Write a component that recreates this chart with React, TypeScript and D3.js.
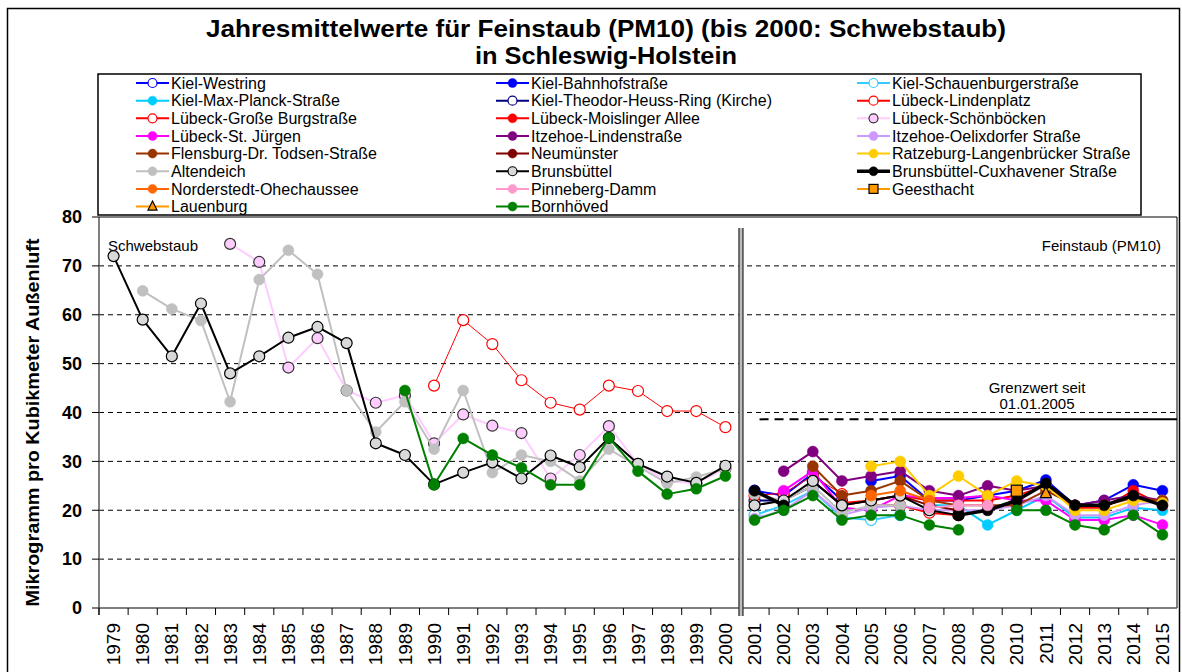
import React from "react";
import * as d3 from "d3";

const years = [
  1979, 1980, 1981, 1982, 1983, 1984, 1985, 1986, 1987, 1988, 1989, 1990, 1991,
  1992, 1993, 1994, 1995, 1996, 1997, 1998, 1999, 2000, 2001, 2002, 2003, 2004,
  2005, 2006, 2007, 2008, 2009, 2010, 2011, 2012, 2013, 2014, 2015,
];
const yTicks = [0, 10, 20, 30, 40, 50, 60, 70, 80];
const limitValue = 38.6;

// values per station, first entry = start year
const kielWestring = [24, 23, 27.5, 22]; // 2001
const kielBahnhof = [26, 27, 22, 22, 23, 24, 26.2, 21, 22, 25.2, 24]; // 2005
const kielSchauenburger = [19, 21, 24, 18.5, 18, 19]; // 2001
const kielMaxPlanck = [21, 21, 17, 20, 23, 18.5, 18.5, 20.5, 20]; // 2007
const kielTheodorHeuss = [22, 22, 25]; // 2001
const luebeckLindenplatzA = [45.5, 58.9, 54, 46.6, 42, 40.6, 45.5, 44.4, 40.3, 40.3, 37]; // 1990
const luebeckLindenplatzB = [23, 23.5, 27, 23.3]; // 2001
const luebeckBurgstr = [21, 21, 19.5, 19]; // 2005
const luebeckMoislinger = [21.5, 22, 23, 22, 22, 22, 23, 25, 20.5, 20.5, 24, 21]; // 2004
const luebeckSchoenboecken = [74.5, 70.8, 49.2, 55.2, 44.5, 42, 43.5, 33.7, 39.6, 37.3, 35.8, 26.5, 31.3, 37.2, 29.5, 26, 25.5, 28.5]; // 1983
const luebeckStJuergen = [24, 28, 20.5, 20, 23, 22.5, 22.5, 23, 22, 22, 18, 18, 19, 17]; // 2002
const itzehoeLinden = [28, 32, 26, 27, 28, 24, 23, 25, 24, 25, 21, 22, 23, 22]; // 2002
const itzehoeOelixdorf = [18.3, 20, 24, 19, 20.5, 21, 20, 20, 20, 21, 23, 19, 19, 21, 22]; // 2001
const flensburg = [29, 23, 24, 26, 22, 21, 21, 21, 24, 21, 21, 22.5, 22]; // 2003
const neumuenster = [26, 21, 22, 23, 21, 20]; // 2003
const ratzeburg = [29, 30, 23, 27, 23, 26, 25, 20, 20, 22, 21.5]; // 2005
const altendeichA = [64.9, 61.2, 58.8, 42.2, 67.2, 73.2, 68.3, 44.5, 36, 42.2, 32.5, 44.5, 27.7, 31.3, 30, 26, 32.5, 29, 25.5, 26.8, 28.5]; // 1980
const altendeichB = [23.3, 22, 25, 19.5, 21, 21]; // 2001
const brunsbuettelA = [72, 59, 51.5, 62.3, 48, 51.5, 55.3, 57.5, 54.2, 33.7, 31.3, 25.3, 27.7, 29.8, 26.5, 31.2, 28.8, 34.8, 29.5, 26.9, 25.6, 29.1]; // 1979
const brunsbuettelB = [21, 22, 26, 21, 22, 23, 20, 19]; // 2001
const brunsbuettelCux = [24, 21, null, null, null, null, null, 19, 20, 22, 25.5, 21, 21, 23, 21]; // 2001
const norderstedt = [23, 24, 22]; // 2005
const pinneberg = [20.5, 21, 21]; // 2007
const geesthacht = [24]; // 2010
const lauenburg = [23.5]; // 2011
const bornhoevedA = [44.5, 25.2, 34.7, 31.3, 28.7, 25.2, 25.2, 34.8, 28, 23.3, 24.4, 27]; // 1989
const bornhoevedB = [18, 20, 23, 18, 19, 19, 17, 16, null, 20, 20, 17, 16, 19, 15]; // 2001

type Part = { start: number; values: (number | null)[] };
type Series = {
  name: string;
  parts: Part[];
  line: string;
  fill: string;
  stroke: string;
  marker: "circle" | "square" | "triangle";
  width: number;
};

const series: Series[] = [
  { name: "Kiel-Westring", parts: [{ start: 2001, values: kielWestring }], line: "#0000FF", fill: "#FFFFFF", stroke: "#0000FF", marker: "circle", width: 2 },
  { name: "Kiel-Bahnhofstraße", parts: [{ start: 2005, values: kielBahnhof }], line: "#0000FF", fill: "#0000FF", stroke: "#0000FF", marker: "circle", width: 2 },
  { name: "Kiel-Schauenburgerstraße", parts: [{ start: 2001, values: kielSchauenburger }], line: "#33CCFF", fill: "#FFFFFF", stroke: "#33CCFF", marker: "circle", width: 2 },
  { name: "Kiel-Max-Planck-Straße", parts: [{ start: 2007, values: kielMaxPlanck }], line: "#00CCFF", fill: "#00CCFF", stroke: "#00CCFF", marker: "circle", width: 2 },
  { name: "Kiel-Theodor-Heuss-Ring (Kirche)", parts: [{ start: 2001, values: kielTheodorHeuss }], line: "#000080", fill: "#FFFFFF", stroke: "#000080", marker: "circle", width: 2 },
  { name: "Lübeck-Lindenplatz", parts: [{ start: 1990, values: luebeckLindenplatzA }, { start: 2001, values: luebeckLindenplatzB }], line: "#FF0000", fill: "#FFFFFF", stroke: "#FF0000", marker: "circle", width: 1 },
  { name: "Lübeck-Große Burgstraße", parts: [{ start: 2005, values: luebeckBurgstr }], line: "#FF0000", fill: "#FFFFFF", stroke: "#FF0000", marker: "circle", width: 2 },
  { name: "Lübeck-Moislinger Allee", parts: [{ start: 2004, values: luebeckMoislinger }], line: "#FF0000", fill: "#FF0000", stroke: "#FF0000", marker: "circle", width: 2 },
  { name: "Lübeck-Schönböcken", parts: [{ start: 1983, values: luebeckSchoenboecken }], line: "#FFCCFF", fill: "#FFCCFF", stroke: "#333333", marker: "circle", width: 2 },
  { name: "Lübeck-St. Jürgen", parts: [{ start: 2002, values: luebeckStJuergen }], line: "#FF00FF", fill: "#FF00FF", stroke: "#FF00FF", marker: "circle", width: 2 },
  { name: "Itzehoe-Lindenstraße", parts: [{ start: 2002, values: itzehoeLinden }], line: "#800080", fill: "#800080", stroke: "#800080", marker: "circle", width: 2 },
  { name: "Itzehoe-Oelixdorfer Straße", parts: [{ start: 2001, values: itzehoeOelixdorf }], line: "#CC99FF", fill: "#CC99FF", stroke: "#CC99FF", marker: "circle", width: 2 },
  { name: "Flensburg-Dr. Todsen-Straße", parts: [{ start: 2003, values: flensburg }], line: "#993300", fill: "#993300", stroke: "#993300", marker: "circle", width: 2 },
  { name: "Neumünster", parts: [{ start: 2003, values: neumuenster }], line: "#800000", fill: "#800000", stroke: "#800000", marker: "circle", width: 2 },
  { name: "Ratzeburg-Langenbrücker Straße", parts: [{ start: 2005, values: ratzeburg }], line: "#FFCC00", fill: "#FFCC00", stroke: "#FFCC00", marker: "circle", width: 2 },
  { name: "Altendeich", parts: [{ start: 1980, values: altendeichA }, { start: 2001, values: altendeichB }], line: "#C0C0C0", fill: "#C0C0C0", stroke: "#C0C0C0", marker: "circle", width: 2 },
  { name: "Brunsbüttel", parts: [{ start: 1979, values: brunsbuettelA }, { start: 2001, values: brunsbuettelB }], line: "#000000", fill: "#D9D9D9", stroke: "#000000", marker: "circle", width: 2 },
  { name: "Brunsbüttel-Cuxhavener Straße", parts: [{ start: 2001, values: brunsbuettelCux }], line: "#000000", fill: "#000000", stroke: "#000000", marker: "circle", width: 3.5 },
  { name: "Norderstedt-Ohechaussee", parts: [{ start: 2005, values: norderstedt }], line: "#FF6600", fill: "#FF6600", stroke: "#FF6600", marker: "circle", width: 2 },
  { name: "Pinneberg-Damm", parts: [{ start: 2007, values: pinneberg }], line: "#FF99CC", fill: "#FF99CC", stroke: "#FF99CC", marker: "circle", width: 2 },
  { name: "Geesthacht", parts: [{ start: 2010, values: geesthacht }], line: "#FF9900", fill: "#FF9900", stroke: "#000000", marker: "square", width: 2 },
  { name: "Lauenburg", parts: [{ start: 2011, values: lauenburg }], line: "#FF9900", fill: "#FF9900", stroke: "#000000", marker: "triangle", width: 2 },
  { name: "Bornhöved", parts: [{ start: 1989, values: bornhoevedA }, { start: 2001, values: bornhoevedB }], line: "#008000", fill: "#008000", stroke: "#008000", marker: "circle", width: 2 },
];

const W = 1182;
const H = 672;
const font = "'Liberation Sans', Arial, sans-serif";
const plot = { left: 99, right: 1177, top: 217, bottom: 608 };

const x = d3
  .scaleBand<string>()
  .domain(years.map(String))
  .range([plot.left, plot.right])
  .padding(0);
const cx = (yr: number) => (x(String(yr)) as number) + x.bandwidth() / 2;
const y = d3.scaleLinear().domain([0, 80]).range([plot.bottom, plot.top]);

const Marker = ({ s, px, py, r = 5.5 }: { s: Series; px: number; py: number; r?: number }) => {
  const sw = s.stroke === s.fill ? 0.5 : 1.2;
  if (s.marker === "square")
    return <rect x={px - r} y={py - r} width={2 * r} height={2 * r} fill={s.fill} stroke={s.stroke} strokeWidth={sw} />;
  if (s.marker === "triangle")
    return (
      <path
        d={`M${px},${py - r - 1}L${px + r},${py + r - 1}L${px - r},${py + r - 1}Z`}
        fill={s.fill}
        stroke={s.stroke}
        strokeWidth={sw}
      />
    );
  return <circle cx={px} cy={py} r={r} fill={s.fill} stroke={s.stroke} strokeWidth={sw} />;
};

const lineGen = d3
  .line<{ yr: number; v: number }>()
  .x((d) => cx(d.yr))
  .y((d) => y(d.v));

function segments(s: Series) {
  const segs: { yr: number; v: number }[][] = [];
  s.parts.forEach((p) => {
    let cur: { yr: number; v: number }[] = [];
    p.values.forEach((v, i) => {
      if (v === null) {
        if (cur.length) segs.push(cur);
        cur = [];
      } else cur.push({ yr: p.start + i, v });
    });
    if (cur.length) segs.push(cur);
  });
  return segs;
}

const legendCols = [136, 496, 857];
const legendRow0 = 83;
const legendDy = 17.65;

export default function App() {
  const step = x.step();
  const breakX = x("2001") as number;
  const limitSplit = cx(2005) + 21;

  return (
    <svg width={W} height={H} style={{ position: "absolute", left: 0, top: 0, background: "#fff" }} fontFamily={font}>
      <rect x={7.5} y={8.5} width={1172} height={700} fill="#fff" stroke="#000" strokeWidth={1.5} />

      <text x={606} y={37} textAnchor="middle" fontSize={24} fontWeight="bold" textLength={800} lengthAdjust="spacingAndGlyphs">
        Jahresmittelwerte  für Feinstaub (PM10) (bis 2000: Schwebstaub)
      </text>
      <text x={606} y={64} textAnchor="middle" fontSize={24} fontWeight="bold" textLength={262} lengthAdjust="spacingAndGlyphs">
        in Schleswig-Holstein
      </text>

      {/* grid */}
      {yTicks.slice(1, -1).map((t) => (
        <line key={t} x1={plot.left} x2={plot.right} y1={y(t)} y2={y(t)} stroke="#000" strokeWidth={1} strokeDasharray="5,4" />
      ))}
      <line x1={plot.left} x2={plot.right} y1={y(80)} y2={y(80)} stroke="#000" />
      <line x1={plot.right} x2={plot.right} y1={y(80)} y2={plot.bottom} stroke="#000" />

      {/* y axis */}
      <line x1={plot.left} x2={plot.left} y1={y(80)} y2={plot.bottom + 7} stroke="#555" strokeWidth={1.5} />
      {yTicks.map((t) => (
        <g key={t}>
          <line x1={plot.left - 7} x2={plot.left} y1={y(t)} y2={y(t)} stroke="#000" />
          <text x={82} y={y(t)} dy="0.35em" textAnchor="end" fontSize={18} fontWeight="bold">
            {t}
          </text>
        </g>
      ))}
      <text
        transform={`translate(39,${(y(80) + plot.bottom) / 2 + 10}) rotate(-90)`}
        textAnchor="middle"
        fontSize={18}
        fontWeight="bold"
        textLength={368}
        lengthAdjust="spacingAndGlyphs"
      >
        Mikrogramm pro Kubikmeter Außenluft
      </text>

      {/* x axis */}
      <line x1={plot.left} x2={plot.right} y1={plot.bottom} y2={plot.bottom} stroke="#555" strokeWidth={1.5} />
      {years.map((yr, i) => (
        <line key={yr} x1={plot.left + i * step} x2={plot.left + i * step} y1={plot.bottom} y2={plot.bottom + 7} stroke="#000" />
      ))}
      {years.map((yr) => (
        <text
          key={yr}
          transform={`translate(${cx(yr)},${plot.bottom + 15}) rotate(-90)`}
          textAnchor="end"
          dy="0.35em"
          fontSize={19}
        >
          {yr}
        </text>
      ))}

      {/* break between Schwebstaub and PM10 */}
      <rect x={breakX - 1} y={228} width={4} height={plot.bottom + 8 - 228} fill="#bbb" />
      <line x1={breakX - 1} x2={breakX - 1} y1={228} y2={plot.bottom + 8} stroke="#333" strokeWidth={1.3} />
      <line x1={breakX + 3} x2={breakX + 3} y1={228} y2={plot.bottom + 8} stroke="#333" strokeWidth={1.3} />

      {/* limit value */}
      <line x1={cx(2001) + 5} x2={limitSplit} y1={y(limitValue)} y2={y(limitValue)} stroke="#000" strokeWidth={2} strokeDasharray="9,6" />
      <line x1={limitSplit} x2={plot.right} y1={y(limitValue)} y2={y(limitValue)} stroke="#000" strokeWidth={2} />
      <text x={1037} y={393} textAnchor="middle" fontSize={15}>
        Grenzwert  seit
      </text>
      <text x={1037} y={409} textAnchor="middle" fontSize={15}>
        01.01.2005
      </text>
      <text x={108} y={251} fontSize={15}>
        Schwebstaub
      </text>
      <text x={1161} y={251} textAnchor="end" fontSize={15}>
        Feinstaub (PM10)
      </text>

      {/* series */}
      {series.map((s) => (
        <g key={s.name}>
          {segments(s).map((seg, i) => (
            <path key={i} d={lineGen(seg) || ""} fill="none" stroke={s.line} strokeWidth={s.width} strokeLinejoin="round" />
          ))}
          {segments(s).flat().map((d) => (
            <Marker key={d.yr} s={s} px={cx(d.yr)} py={y(d.v)} />
          ))}
        </g>
      ))}

      {/* legend */}
      <rect x={98} y={74} width={1043} height={141} fill="#fff" stroke="#000" strokeWidth={1.5} />
      {series.map((s, i) => {
        const lx = legendCols[i % 3];
        const ly = legendRow0 + Math.floor(i / 3) * legendDy;
        return (
          <g key={s.name}>
            <line x1={lx} x2={lx + 33} y1={ly} y2={ly} stroke={s.line} strokeWidth={Math.max(s.width, 2)} />
            <Marker s={s} px={lx + 16.5} py={ly} r={4.5} />
            <text x={lx + 35} y={ly} dy="0.35em" fontSize={16}>
              {s.name}
            </text>
          </g>
        );
      })}
    </svg>
  );
}
